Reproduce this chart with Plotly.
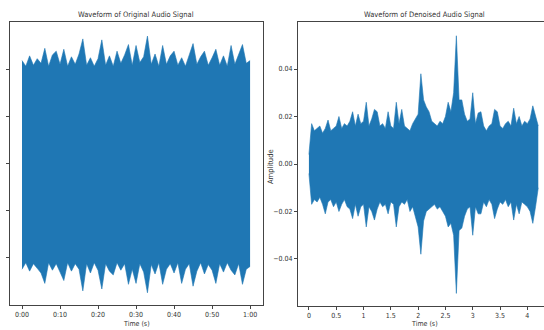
import plotly.graph_objects as go

# ---------------- data ----------------
# Original signal: envelope (upper / lower peaks) sampled every second, 0..60 s
orig_time = list(range(61))
orig_upper = [
    1.10, 1.04, 1.15, 1.05, 1.12, 1.07, 1.23, 1.04, 1.16, 1.20,
    1.06, 1.22, 1.04, 1.14, 1.06, 1.17, 1.33, 1.05, 1.13, 1.04,
    1.12, 1.32, 1.05, 1.15, 1.04, 1.20, 1.07, 1.16, 1.27, 1.05,
    1.26, 1.08, 1.14, 1.36, 1.06, 1.17, 1.04, 1.26, 1.06, 1.15,
    1.20, 1.05, 1.13, 1.04, 1.16, 1.28, 1.06, 1.14, 1.20, 1.05,
    1.13, 1.22, 1.05, 1.15, 1.04, 1.26, 1.06, 1.16, 1.27, 1.07,
    1.10]
orig_lower = [
    -1.12, -1.05, -1.14, -1.06, -1.11, -1.16, -1.27, -1.05, -1.13, -1.06,
    -1.15, -1.24, -1.05, -1.14, -1.06, -1.12, -1.35, -1.06, -1.16, -1.05,
    -1.13, -1.33, -1.06, -1.14, -1.18, -1.05, -1.13, -1.06, -1.28, -1.12,
    -1.27, -1.06, -1.15, -1.37, -1.07, -1.17, -1.05, -1.28, -1.12, -1.06,
    -1.16, -1.05, -1.27, -1.12, -1.06, -1.30, -1.14, -1.05, -1.17, -1.07,
    -1.13, -1.27, -1.06, -1.15, -1.05, -1.13, -1.18, -1.06, -1.28, -1.12,
    -1.09]
orig_tickvals = [0, 10, 20, 30, 40, 50, 60]
orig_ticktext = ["0:00", "0:10", "0:20", "0:30", "0:40", "0:50", "1:00"]

# Denoised signal: envelope sampled every 0.05 s, 0..4.2 s
den_time = [round(i * 0.05, 2) for i in range(85)]
den_upper = [
    0.004, 0.017, 0.014, 0.015, 0.016, 0.013, 0.015, 0.0185, 0.014, 0.015,
    0.016, 0.020, 0.015, 0.017, 0.016, 0.018, 0.022, 0.016, 0.021, 0.017,
    0.018, 0.026, 0.016, 0.019, 0.023, 0.022, 0.016, 0.017, 0.015, 0.022,
    0.016, 0.015, 0.026, 0.017, 0.023, 0.016, 0.015, 0.014, 0.017, 0.019,
    0.021, 0.038, 0.027, 0.024, 0.022, 0.018, 0.017, 0.016, 0.018, 0.017,
    0.020, 0.026, 0.022, 0.030, 0.054, 0.027, 0.027, 0.021, 0.018, 0.019,
    0.030, 0.017, 0.0215, 0.022, 0.016, 0.014, 0.016, 0.017, 0.023, 0.022,
    0.016, 0.015, 0.017, 0.018, 0.016, 0.0235, 0.017, 0.020, 0.016, 0.018,
    0.017, 0.019, 0.0245, 0.020, 0.016]
den_lower = [
    -0.004, -0.017, -0.015, -0.016, -0.014, -0.017, -0.021, -0.016, -0.015, -0.018,
    -0.016, -0.020, -0.017, -0.015, -0.018, -0.019, -0.023, -0.017, -0.022, -0.018,
    -0.017, -0.0265, -0.018, -0.020, -0.0236, -0.019, -0.016, -0.018, -0.017, -0.021,
    -0.016, -0.017, -0.0265, -0.018, -0.016, -0.017, -0.015, -0.020, -0.018, -0.022,
    -0.0265, -0.038, -0.024, -0.020, -0.019, -0.018, -0.017, -0.019, -0.018, -0.020,
    -0.022, -0.0265, -0.025, -0.030, -0.0545, -0.028, -0.027, -0.022, -0.019, -0.018,
    -0.030, -0.018, -0.021, -0.021, -0.016, -0.018, -0.015, -0.017, -0.023, -0.019,
    -0.016, -0.017, -0.015, -0.018, -0.016, -0.0236, -0.017, -0.021, -0.016, -0.017,
    -0.018, -0.020, -0.025, -0.018, -0.010]
den_tickvals = [0, 0.5, 1, 1.5, 2, 2.5, 3, 3.5, 4]
den_ticktext = ["0", "0.5", "1", "1.5", "2", "2.5", "3", "3.5", "4"]
den_ytickvals = [-0.04, -0.02, 0.0, 0.02, 0.04]
den_yticktext = ["\u22120.04", "\u22120.02", "0.00", "0.02", "0.04"]

# ---------------- figure ----------------
BLUE = "#1f77b4"
FONT = "DejaVu Sans Condensed, Liberation Sans Narrow, Liberation Sans, Arial, sans-serif"
TXT = "#333333"
W, H = 544, 330

fig = go.Figure()
fig.add_trace(go.Scatter(x=orig_time, y=orig_lower, mode="lines",
                         line=dict(color=BLUE, width=0.6), xaxis="x", yaxis="y",
                         showlegend=False, hoverinfo="skip"))
fig.add_trace(go.Scatter(x=orig_time, y=orig_upper, mode="lines", fill="tonexty",
                         fillcolor=BLUE, line=dict(color=BLUE, width=0.6),
                         xaxis="x", yaxis="y", showlegend=False, hoverinfo="skip"))
fig.add_trace(go.Scatter(x=den_time, y=den_lower, mode="lines",
                         line=dict(color=BLUE, width=0.6), xaxis="x2", yaxis="y2",
                         showlegend=False, hoverinfo="skip"))
fig.add_trace(go.Scatter(x=den_time, y=den_upper, mode="lines", fill="tonexty",
                         fillcolor=BLUE, line=dict(color=BLUE, width=0.6),
                         xaxis="x2", yaxis="y2", showlegend=False, hoverinfo="skip"))

axis_common = dict(showgrid=False, zeroline=False, showline=True, linecolor="#444444",
                   linewidth=1, ticks="outside", ticklen=3,
                   tickcolor="#444444", tickfont=dict(family=FONT, size=7, color=TXT))

fig.update_layout(
    width=W, height=H,
    margin=dict(l=0, r=0, t=0, b=0),
    paper_bgcolor="white", plot_bgcolor="white",
    xaxis=dict(domain=[10 / W, 263 / W], range=[-3.16, 63.4], mirror=True,
               tickvals=orig_tickvals, ticktext=orig_ticktext, anchor="y", **axis_common),
    yaxis=dict(domain=[1 - 305 / H, 1 - 22 / H], range=[-1.50, 1.51], mirror=True,
               tickvals=[-1, -0.5, 0, 0.5, 1], showticklabels=False, anchor="x",
               **axis_common),
    xaxis2=dict(domain=[298 / W, 1.0], range=[-0.20, 4.305], mirror=True,
                tickvals=den_tickvals, ticktext=den_ticktext, anchor="y2", **axis_common),
    yaxis2=dict(domain=[1 - 306 / H, 1 - 22 / H], range=[-0.0598, 0.0598], mirror=False,
                tickvals=den_ytickvals, ticktext=den_yticktext, anchor="x2",
                **axis_common),
    annotations=[
        dict(text="Waveform of Original Audio Signal", x=136 / W, y=1 - 14 / H,
             xref="paper", yref="paper", showarrow=False,
             font=dict(family=FONT, size=7.5, color=TXT), xanchor="center", yanchor="middle"),
        dict(text="Waveform of Denoised Audio Signal", x=424 / W, y=1 - 14 / H,
             xref="paper", yref="paper", showarrow=False,
             font=dict(family=FONT, size=7.5, color=TXT), xanchor="center", yanchor="middle"),
        dict(text="Time (s)", x=136 / W, y=1 - 324 / H, xref="paper", yref="paper",
             showarrow=False, font=dict(family=FONT, size=7, color=TXT),
             xanchor="center", yanchor="middle"),
        dict(text="Time (s)", x=424 / W, y=1 - 324 / H, xref="paper", yref="paper",
             showarrow=False, font=dict(family=FONT, size=7, color=TXT),
             xanchor="center", yanchor="middle"),
        dict(text="Amplitude", x=270 / W, y=1 - 167 / H, xref="paper", yref="paper",
             showarrow=False, textangle=-90, font=dict(family=FONT, size=7.5, color=TXT),
             xanchor="center", yanchor="middle"),
    ],
)

fig.write_html("out.html", config={"displayModeBar": False},
               post_script="document.body.style.margin='0px';document.body.style.overflow='hidden';")
